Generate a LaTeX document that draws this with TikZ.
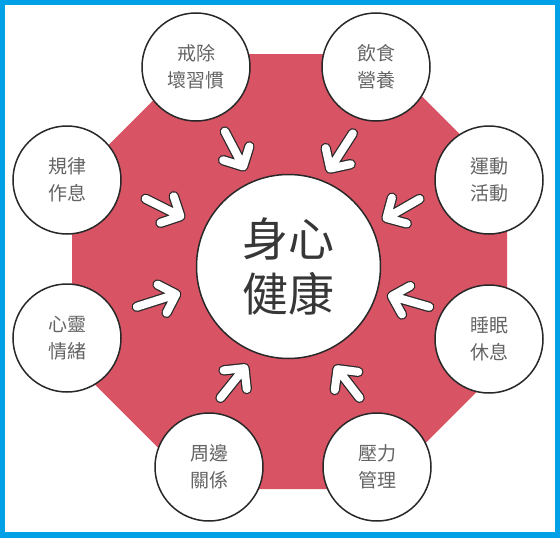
\documentclass[tikz,border=0pt]{standalone}
\usepackage{fontspec}
\setmainfont{Noto Sans CJK TC}
\usetikzlibrary{calc}
\definecolor{bordblue}{RGB}{0,160,230}
\definecolor{octred}{RGB}{216,84,101}
\definecolor{txtgray}{RGB}{100,100,100}
\definecolor{darktxt}{RGB}{55,55,55}
\definecolor{outl}{RGB}{40,40,40}
\begin{document}
\begin{tikzpicture}[x=1pt,y=-1pt,
 topic/.style={circle,draw=outl,line width=1.5pt,fill=white,minimum size=108pt,inner sep=0pt,align=center,font=\fontsize{19}{27}\selectfont,text=txtgray},
 hub/.style={circle,draw=outl,line width=1.5pt,fill=white,minimum size=184pt,inner sep=0pt,align=center,font=\fontsize{46}{55}\selectfont,text=darktxt},
 arrowout/.style={draw=outl,line width=10.5pt,line cap=round,line join=round},
 arrowin/.style={draw=white,line width=8pt,line cap=round,line join=round}]
\useasboundingbox (0,0) rectangle (560,538);
\fill[bordblue] (0,0) rectangle (560,538);
\fill[white] (5,5) rectangle (555,532);
% octagon
\fill[octred] (199.5,54) -- (379.5,54) -- (507,181.5) -- (507,361.5) -- (379.5,489) -- (199.5,489) -- (72,361.5) -- (72,181.5) -- cycle;
% arrows
\coordinate (s1) at (223,128); \coordinate (t1) at (245,170);
\coordinate (s2) at (142,197); \coordinate (t2) at (184,218);
\coordinate (s3) at (355,130); \coordinate (t3) at (328,172);
\coordinate (s4) at (423,197); \coordinate (t4) at (383,220);
\coordinate (s5) at (133,308); \coordinate (t5) at (180,293);
\coordinate (s6) at (218,401); \coordinate (t6) at (247,365);
\coordinate (s7) at (433,308); \coordinate (t7) at (388,295);
\coordinate (s8) at (362,401); \coordinate (t8) at (335,366);
\foreach \i in {1,...,8}{
  \coordinate (T) at ($(t\i)!4pt!(s\i)$);
  \coordinate (S) at ($(s\i)!4pt!(t\i)$);
  \coordinate (A) at ($(T)!21pt!45:(S)$);
  \coordinate (B) at ($(T)!21pt!-45:(S)$);
  \draw[arrowout] (S) -- (T) (A) -- (T) -- (B);
  \draw[arrowin] (S) -- (T) (A) -- (T) -- (B);
}
% center
\node[hub] (hub) at (288.5,266.5) {身心\\健康};
% topics
\node[topic] (n1) at (196,67) {戒除\\壞習慣};
\node[topic] (n2) at (376,67) {飲食\\營養};
\node[topic] (n3) at (67,180) {規律\\作息};
\node[topic] (n4) at (489,180) {運動\\活動};
\node[topic] (n5) at (67,338) {心靈\\情緒};
\node[topic] (n6) at (489,339) {睡眠\\休息};
\node[topic] (n7) at (209,467) {周邊\\關係};
\node[topic] (n8) at (377,467) {壓力\\管理};
\end{tikzpicture}
\end{document}
